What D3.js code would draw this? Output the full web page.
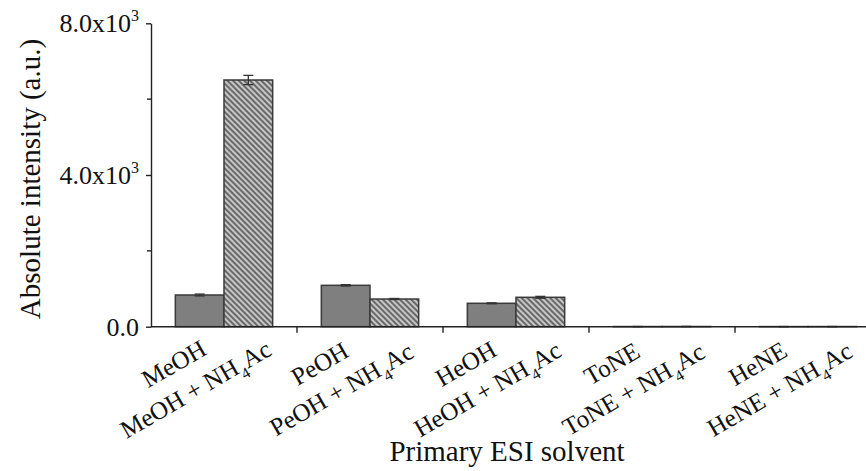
<!DOCTYPE html>
<html>
<head>
<meta charset="utf-8">
<script src="https://cdn.jsdelivr.net/npm/d3@7"></script>
<style>
  html, body { margin: 0; padding: 0; background: #fff; }
  svg { display: block; }
  text { font-family: "Liberation Serif", "Times New Roman", serif; fill: #111; }
</style>
</head>
<body>
<svg id="chart" width="866" height="471" font-family="Liberation Serif, Times New Roman, serif"></svg>
<script>
// Solvents tested as primary ESI solvent
const categories = ["MeOH", "PeOH", "HeOH", "ToNE", "HeNE"];
// Absolute intensity, plain solvent
const plainValues = [836, 1091, 617, 4, 3];
const plainErrors = [25, 18, 12, 2, 2];
// Absolute intensity, solvent + NH4Ac
const saltValues = [6505, 730, 775, 5, 4];
const saltErrors = [122, 14, 25, 2, 2];
// Axis ticks
const yMajorTicks = [0, 4000, 8000];
const yMinorTicks = [2000, 6000];
const yTickMantissa = ["0.0", "4.0x10", "8.0x10"];

const svg = d3.select("#chart");
const left = 151, groupW = 146, y0px = 326.7, yTop = 23.3;

const x = d3.scaleBand().domain(categories)
  .range([left, left + groupW * categories.length]).paddingInner(0).paddingOuter(0);
const sub = d3.scaleBand().domain(["plain", "salt"])
  .range([0, x.bandwidth()]).paddingInner(0).paddingOuter(0.5);
const y = d3.scaleLinear().domain([0, 8000]).range([y0px, yTop]);

// Diagonal hatch for the NH4Ac bars
const defs = svg.append("defs");
const pat = defs.append("pattern").attr("id", "hatch")
  .attr("patternUnits", "userSpaceOnUse").attr("width", 4).attr("height", 8)
  .attr("patternTransform", "rotate(-45)");
pat.append("rect").attr("width", 4).attr("height", 8).attr("fill", "#c6c6c6");
pat.append("line").attr("x1", 1).attr("x2", 1).attr("y1", 0).attr("y2", 8)
  .attr("stroke", "#4a4a4a").attr("stroke-width", 1.5);

const rows = categories.map((c, i) => ({
  cat: c,
  bars: [
    { key: "plain", v: plainValues[i], e: plainErrors[i] },
    { key: "salt", v: saltValues[i], e: saltErrors[i] }
  ]
}));

const groups = svg.append("g").selectAll("g").data(rows).join("g")
  .attr("transform", d => `translate(${x(d.cat)},0)`);

groups.selectAll("rect").data(d => d.bars).join("rect")
  .attr("x", d => sub(d.key))
  .attr("y", d => y(d.v))
  .attr("width", sub.bandwidth())
  .attr("height", d => y0px - y(d.v))
  .attr("fill", d => d.key === "plain" ? "#7f7f7f" : "url(#hatch)")
  .attr("stroke", "#3a3a3a").attr("stroke-width", 1.5);

// Error bars
const eb = groups.selectAll("g.err").data(d => d.bars).join("g").attr("class", "err")
  .attr("stroke", "#333").attr("stroke-width", 1.3);
eb.append("line")
  .attr("x1", d => sub(d.key) + sub.bandwidth() / 2)
  .attr("x2", d => sub(d.key) + sub.bandwidth() / 2)
  .attr("y1", d => y(d.v + d.e)).attr("y2", d => y(d.v - d.e));
eb.append("line")
  .attr("x1", d => sub(d.key) + sub.bandwidth() / 2 - 5)
  .attr("x2", d => sub(d.key) + sub.bandwidth() / 2 + 5)
  .attr("y1", d => y(d.v + d.e)).attr("y2", d => y(d.v + d.e));
eb.append("line")
  .attr("x1", d => sub(d.key) + sub.bandwidth() / 2 - 5)
  .attr("x2", d => sub(d.key) + sub.bandwidth() / 2 + 5)
  .attr("y1", d => y(d.v - d.e)).attr("y2", d => y(d.v - d.e));

// X axis line and group separator ticks
const axisColor = "#222";
svg.append("line").attr("x1", left).attr("x2", 866)
  .attr("y1", y0px).attr("y2", y0px)
  .attr("stroke", axisColor).attr("stroke-width", 1.4);
svg.append("g").selectAll("line").data(categories.slice(1)).join("line")
  .attr("x1", d => x(d)).attr("x2", d => x(d))
  .attr("y1", y0px).attr("y2", y0px + 6)
  .attr("stroke", axisColor).attr("stroke-width", 1.4);

// Y axis
const yAxis = svg.append("g").attr("transform", `translate(${left},0)`)
  .call(d3.axisLeft(y).tickValues(yMajorTicks).tickSize(5).tickSizeOuter(0).tickFormat(""));
yAxis.select(".domain").attr("stroke", axisColor).attr("stroke-width", 1.4);
yAxis.selectAll(".tick line").attr("stroke", axisColor).attr("stroke-width", 1.4);
yAxis.selectAll(".tick text").remove();
svg.append("g").attr("transform", `translate(${left},0)`)
  .selectAll("line").data(yMinorTicks).join("line")
  .attr("x1", -4).attr("x2", 0).attr("y1", d => y(d)).attr("y2", d => y(d))
  .attr("stroke", axisColor).attr("stroke-width", 1.4);

const serif = "Liberation Serif, Times New Roman, serif";
const tl = svg.append("g").selectAll("text").data(yMajorTicks).join("text")
  .attr("font-family", serif)
  .attr("x", left - 12).attr("y", d => y(d) + 9)
  .attr("text-anchor", "end").attr("font-size", 26);
tl.append("tspan").text((d, i) => yTickMantissa[i]);
tl.filter(d => d !== 0).append("tspan").attr("dy", -11).attr("font-size", 16).text("3");

// Category labels, two lines rotated by 30 degrees
const labG = svg.append("g");
categories.forEach(c => {
  const cx = x(c) + groupW / 2 - 46;
  labG.append("text")
    .attr("font-family", serif)
    .attr("transform", `translate(${cx},371) rotate(-30)`)
    .attr("text-anchor", "middle").attr("font-size", 25).text(c);
  const t2 = labG.append("text")
    .attr("font-family", serif)
    .attr("transform", `translate(${cx},371) rotate(-30) translate(6,33)`)
    .attr("text-anchor", "middle").attr("font-size", 25);
  t2.append("tspan").text(c + " + NH");
  t2.append("tspan").attr("dy", 8).attr("font-size", 16).text("4");
  t2.append("tspan").attr("dy", -8).text("Ac");
});

// Axis titles
svg.append("text").attr("font-family", serif)
  .attr("x", 507).attr("y", 461).attr("text-anchor", "middle")
  .attr("font-size", 29).text("Primary ESI solvent");
svg.append("text").attr("font-family", serif)
  .attr("transform", "translate(40,179) rotate(-90)")
  .attr("text-anchor", "middle").attr("font-size", 29).text("Absolute intensity (a.u.)");
</script>
</body>
</html>
